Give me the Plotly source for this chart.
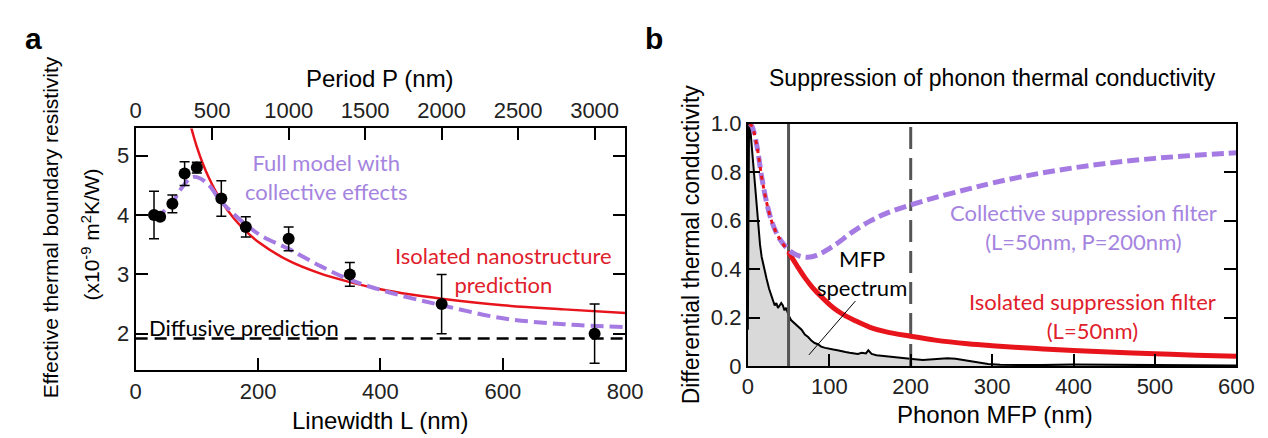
import plotly.graph_objects as go

W, H = 1268, 438

# ---------------- Panel a data ----------------
L_meas = [30, 40, 60, 80, 100, 140, 180, 250, 350, 500, 750]
R_meas = [4.00, 3.97, 4.19, 4.70, 4.80, 4.28, 3.80, 3.60, 3.00, 2.50, 2.00]
R_err = [0.40, 0.05, 0.15, 0.20, 0.09, 0.30, 0.17, 0.20, 0.20, 0.50, 0.50]

iso_L = [88, 95, 100, 110, 120, 138, 160, 180, 200, 250, 300, 350, 400, 450, 500, 600, 700, 800]
iso_R = [5.58, 5.32, 5.15, 4.86, 4.62, 4.27, 3.95, 3.73, 3.55, 3.23, 3.02, 2.87, 2.75, 2.66, 2.59, 2.48, 2.41, 2.35]

full_L = [30, 40, 50, 60, 70, 80, 92, 105, 120, 138, 160, 180, 207, 250, 300, 350, 400, 450, 500, 600, 700, 800]
full_R = [3.97, 4.02, 4.10, 4.20, 4.38, 4.52, 4.64, 4.62, 4.50, 4.25, 4.02, 3.84, 3.64, 3.43, 3.15, 2.91, 2.74, 2.60, 2.48, 2.26, 2.16, 2.11]

diffusive_R = 1.92
L_range = [0, 800]
P_range = [0, 3200]
R_range = [1.38, 5.46]
L_ticks = [0, 200, 400, 600, 800]
P_ticks = [0, 500, 1000, 1500, 2000, 2500, 3000]
R_ticks = [2, 3, 4, 5]

# ---------------- Panel b data ----------------
mfp_x = [0, 0.5, 1.5, 3, 5, 7, 9, 11, 13, 15, 17, 20, 23, 26, 29, 31, 33, 35, 37, 39, 41, 43, 45, 47,
         50, 53, 56, 60, 63, 66, 70, 74, 78, 82, 86, 90, 95, 100, 105, 110, 115, 120, 125, 130, 135,
         140, 145, 148, 152, 158, 165, 175, 185, 195, 205, 215, 225, 235, 245, 255, 265, 275, 285,
         295, 310, 330, 360, 400, 450, 500, 550, 600]
mfp_y = [0.15, 0.60, 1.00, 0.98, 0.90, 0.82, 0.72, 0.64, 0.56, 0.50, 0.45, 0.40, 0.36, 0.32, 0.29,
         0.27, 0.25, 0.26, 0.24, 0.25, 0.26, 0.25, 0.23, 0.24, 0.21, 0.19, 0.18, 0.17, 0.16, 0.15,
         0.13, 0.12, 0.105, 0.095, 0.09, 0.08, 0.075, 0.07, 0.068, 0.065, 0.06, 0.058, 0.055, 0.052,
         0.05, 0.055, 0.052, 0.065, 0.05, 0.045, 0.042, 0.04, 0.035, 0.03, 0.028, 0.025, 0.027, 0.03,
         0.032, 0.03, 0.025, 0.02, 0.012, 0.008, 0.005, 0.004, 0.004, 0.006, 0.004, 0.003, 0.003, 0.002]

isof_x = [2, 5, 11, 17, 23, 29, 35, 40, 50, 60, 70, 80, 90, 100, 110, 120, 130, 150, 170, 200, 230,
          270, 300, 350, 400, 450, 500, 550, 600]
isof_y = [1.0, 0.99, 0.91, 0.78, 0.676, 0.60, 0.55, 0.52, 0.47, 0.416, 0.365, 0.322, 0.287, 0.255,
          0.228, 0.207, 0.19, 0.16, 0.141, 0.123, 0.107, 0.092, 0.084, 0.073, 0.064, 0.057, 0.051,
          0.045, 0.040]

colf_x = [2, 5, 11, 17, 23, 29, 35, 40, 50, 60, 72, 80, 90, 100, 110, 130, 150, 170, 200, 230, 270,
          300, 350, 400, 450, 500, 550, 600]
colf_y = [1.0, 0.99, 0.91, 0.78, 0.676, 0.60, 0.55, 0.52, 0.48, 0.458, 0.449, 0.452, 0.465, 0.485,
          0.507, 0.557, 0.598, 0.63, 0.665, 0.695, 0.73, 0.755, 0.79, 0.818, 0.84, 0.857, 0.87, 0.88]

film_L = 50      # solid marker line
film_P = 200     # dashed marker line
mfp_range = [0, 600]
k_range = [0, 1.0]
mfp_ticks = [0, 100, 200, 300, 400, 500, 600]
k_ticks = [0, 0.2, 0.4, 0.6, 0.8, 1.0]
k_ticktext = ["0", "0.2", "0.4", "0.6", "0.8", "1.0"]
pointer = {"x": [75, 132], "y": [0.046, 0.268]}

PURPLE = "#A57BE3"
PURPLE_TXT = "#A584E0"
RED = "#E8141B"
RED_TXT = "#E0202B"
GRAYLINE = "#555555"
ARIAL = "Liberation Sans"
CAL = "Lato"


def px(x):
    return x / W


def py(y):
    return 1 - y / H


fig = go.Figure()

# ---- panel a traces ----
fig.add_trace(go.Scatter(x=L_range, y=[diffusive_R, diffusive_R], mode="lines",
                         line=dict(color="black", width=2.5, dash="12px,7px"),
                         xaxis="x", yaxis="y", showlegend=False))
fig.add_trace(go.Scatter(x=iso_L, y=iso_R, mode="lines", line=dict(color=RED, width=2.5, shape="spline"),
                         xaxis="x", yaxis="y", showlegend=False))
fig.add_trace(go.Scatter(x=full_L, y=full_R, mode="lines",
                         line=dict(color=PURPLE, width=4, dash="13px,6px", shape="spline"),
                         xaxis="x", yaxis="y", showlegend=False))
fig.add_trace(go.Scatter(x=L_meas, y=R_meas, mode="markers",
                         marker=dict(color="black", size=12),
                         error_y=dict(type="data", array=R_err, color="black", thickness=1.5, width=5),
                         xaxis="x", yaxis="y", showlegend=False))
fig.add_trace(go.Scatter(x=P_range, y=[None, None], mode="lines", xaxis="x3", yaxis="y",
                         showlegend=False, hoverinfo="skip"))

# ---- panel b traces ----
fig.add_trace(go.Scatter(x=mfp_x, y=mfp_y, mode="lines", fill="tozeroy", fillcolor="#D9D9D9",
                         line=dict(color="black", width=2), xaxis="x2", yaxis="y2", showlegend=False))
fig.add_trace(go.Scatter(x=[film_L, film_L], y=k_range, mode="lines",
                         line=dict(color=GRAYLINE, width=3), xaxis="x2", yaxis="y2", showlegend=False))
fig.add_trace(go.Scatter(x=[film_P, film_P], y=k_range, mode="lines",
                         line=dict(color=GRAYLINE, width=3, dash="22px,9px"),
                         xaxis="x2", yaxis="y2", showlegend=False))
n_early = isof_x.index(film_L) + 1
fig.add_trace(go.Scatter(x=isof_x[n_early - 1:], y=isof_y[n_early - 1:], mode="lines",
                         line=dict(color=RED, width=5, shape="spline"),
                         xaxis="x2", yaxis="y2", showlegend=False))
fig.add_trace(go.Scatter(x=colf_x, y=colf_y, mode="lines",
                         line=dict(color=PURPLE, width=5, dash="12px,5px", shape="spline"),
                         xaxis="x2", yaxis="y2", showlegend=False))
fig.add_trace(go.Scatter(x=isof_x[:n_early], y=isof_y[:n_early], mode="lines",
                         line=dict(color=RED, width=3, dash="4px,5px", shape="spline"),
                         xaxis="x2", yaxis="y2", showlegend=False))
fig.add_trace(go.Scatter(x=pointer["x"], y=pointer["y"], mode="lines",
                         line=dict(color="black", width=1), xaxis="x2", yaxis="y2", showlegend=False))

tickfont = dict(family=ARIAL, size=22, color="#222")
axcommon = dict(showgrid=False, zeroline=False, showline=True, linecolor="black", linewidth=2,
                ticks="inside", ticklen=12, tickwidth=2, tickcolor="black", tickfont=tickfont)

fig.update_layout(
    width=W, height=H, margin=dict(l=0, r=0, t=0, b=0),
    paper_bgcolor="white", plot_bgcolor="white",
    xaxis=dict(domain=[px(124), px(623)], range=L_range, tickvals=L_ticks, anchor="y", mirror=True,
               **axcommon),
    yaxis=dict(domain=[py(371.7), py(115)], range=R_range, tickvals=R_ticks, anchor="x", mirror="ticks",
               **axcommon),
    xaxis3=dict(overlaying="x", side="top", anchor="y", range=P_range, tickvals=P_ticks, **axcommon),
    xaxis2=dict(domain=[px(748), px(1246)], range=mfp_range, tickvals=mfp_ticks, anchor="y2", mirror=True,
                **axcommon),
    yaxis2=dict(domain=[py(367), py(110)], range=k_range, tickvals=k_ticks, ticktext=k_ticktext,
                anchor="x2", mirror="ticks", **axcommon),
)

ann = []


def add_text(text, x, y, size, color="black", family=ARIAL, angle=0, bold=False):
    if bold:
        text = "<b>" + text + "</b>"
    ann.append(dict(text=text, x=px(x), y=py(y), xref="paper", yref="paper", showarrow=False,
                    xanchor="center", yanchor="middle", textangle=angle,
                    font=dict(family=family, size=size, color=color)))


add_text("a", 20, 20, 30, bold=True)
add_text("b", 652, 20, 30, bold=True)
add_text("Period P (nm)", 373.5, 62, 24)
add_text("Linewidth L (nm)", 374, 425, 24)
add_text("Effective thermal boundary resistivity", 37.5, 220, 21, angle=-90)
add_text("(x10<sup>-9</sup> m<sup>2</sup>K/W)", 78, 228, 21, angle=-90)
add_text("Full model with<br>collective effects", 318, 166, 22, color=PURPLE_TXT, family=CAL)
add_text("Isolated nanostructure<br>prediction", 499, 265, 22, color=RED_TXT, family=CAL)
add_text("Diffusive prediction", 234, 326, 22, family=CAL)

add_text("Suppression of phonon thermal conductivity", 997, 62, 23)
add_text("Phonon MFP (nm)", 1000, 418, 24)
add_text("Differential thermal conductivity", 690, 238, 23, angle=-90)
add_text("Collective suppression filter<br>(L=50nm, P=200nm)", 1090, 219, 22, color=PURPLE_TXT, family=CAL)
add_text("Isolated suppression filter<br>(L=50nm)", 1099, 314, 22, color=RED_TXT, family=CAL)
add_text("MFP<br>spectrum", 864, 268, 22, family=CAL)

fig.update_layout(annotations=ann)

fig.write_html("out.html")
